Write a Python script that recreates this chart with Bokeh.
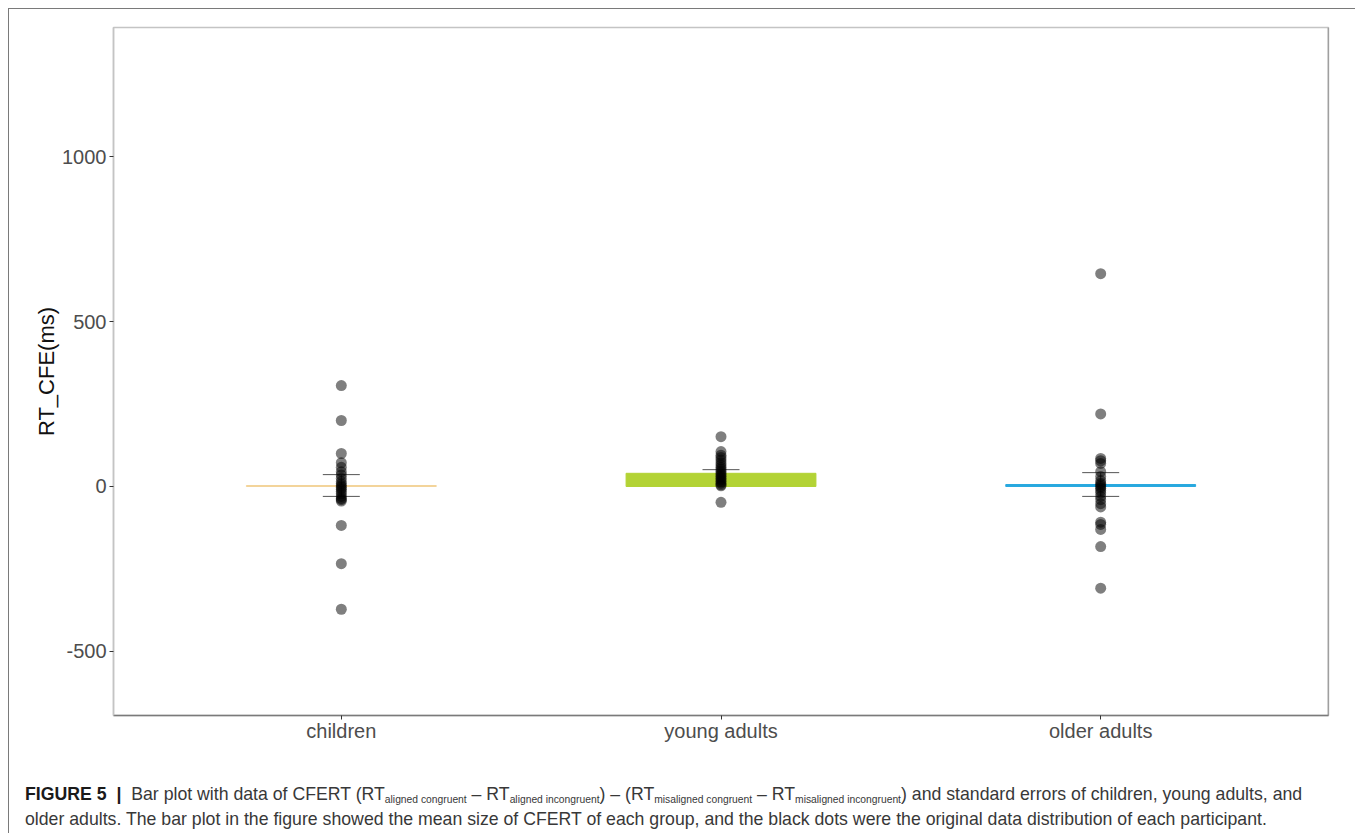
from bokeh.plotting import figure
from bokeh.models import (Range1d, FactorRange, FixedTicker, Whisker, TeeHead,
                          ColumnDataSource, Div, Span)
from bokeh.layouts import column
from bokeh.embed import file_html
from bokeh.resources import INLINE

# ---------------- data ----------------
groups = ["children", "young adults", "older adults"]
means = [3, 40, 6]
ses = [33, 11, 36]
bar_colors = ["#F3D49A", "#B3D335", "#29A8DF"]

children_pts = [306, 200, 100, 72, 58, 45, 35, 25, 15, 8, 2, -3, -8, -15,
                -22, -30, -36, -40, -44, -118, -234, -372]
young_pts = [151, 106, 95, 88, 80, 72, 65, 58, 52, 46, 40, 35, 30, 25, 20,
             15, 10, 5, 2, -48]
older_pts = [645, 220, 85, 78, 70, 45, 30, 18, 10, 5, 0, -5, -12, -20, -30,
             -40, -52, -62, -108, -115, -130, -182, -308]

y_ticks = [-500, 0, 500, 1000]
y_tick_labels = ["-500", "0", "500", "1000"]
y_label = "RT_CFE(ms)"

# ---------------- figure ----------------
p = figure(x_range=FactorRange(factors=groups, range_padding=0.1,
                               range_padding_units="absolute"),
           y_range=Range1d(-694, 1391),
           width=1342, height=756,
           min_border_left=104, min_border_right=23,
           min_border_top=18, min_border_bottom=50,
           output_backend="svg", toolbar_location=None,
           background_fill_color="white", border_fill_color="white")

p.xgrid.visible = False
p.ygrid.visible = False
p.outline_line_color = "#c4c4c4"
p.outline_line_width = 1.5

bars = ColumnDataSource(dict(x=groups, top=means, color=bar_colors,
                             upper=[m + s for m, s in zip(means, ses)],
                             lower=[m - s for m, s in zip(means, ses)]))
p.vbar(x="x", top="top", bottom=0, width=0.5, fill_color="color",
       line_color="color", line_width=1, source=bars)

p.add_layout(Whisker(source=bars, base="x", upper="upper", lower="lower",
                     dimension="height", line_color="#555555", line_width=1,
                     upper_head=TeeHead(size=37, line_color="#555555", line_width=1),
                     lower_head=TeeHead(size=37, line_color="#555555", line_width=1)))

px = ([groups[0]] * len(children_pts) + [groups[1]] * len(young_pts)
      + [groups[2]] * len(older_pts))
py = children_pts + young_pts + older_pts
p.scatter(x=px, y=py, size=11, fill_color="black", fill_alpha=0.5,
          line_color=None)

# right frame edge darker
p.add_layout(Span(location=3.1, dimension="height", line_color="#7a7a7a",
                  line_width=1.5))

# axes
p.yaxis.ticker = FixedTicker(ticks=y_ticks)
p.yaxis.major_label_overrides = {t: l for t, l in zip(y_ticks, y_tick_labels)}
p.yaxis.axis_label = y_label
for ax in (p.xaxis[0], p.yaxis[0]):
    ax.major_label_text_font = "Liberation Sans"
    ax.major_label_text_font_size = "20px"
    ax.major_label_text_color = "#4d4d4d"
    ax.major_tick_line_color = "#333333"
    ax.major_tick_out = 4
    ax.major_tick_in = 0
    ax.minor_tick_line_color = None
p.yaxis.major_label_standoff = 3
p.xaxis.major_label_standoff = 0
p.yaxis.axis_line_color = "#c4c4c4"
p.yaxis.axis_line_width = 1.5
p.xaxis.axis_line_color = "#7a7a7a"
p.xaxis.axis_line_width = 1.5
p.yaxis.axis_label_text_font = "Liberation Sans"
p.yaxis.axis_label_text_font_size = "22px"
p.yaxis.axis_label_text_font_style = "normal"
p.yaxis.axis_label_text_color = "#111111"
p.yaxis.axis_label_standoff = 0

sub = ('<sub style="font-size:10.3px; line-height:0; vertical-align:-3px;">'
       '%s</sub>')
caption_html = (
    '<div style="font-family: \'Liberation Sans\', Arial, sans-serif; '
    'font-size:17.7px; color:#383838; line-height:25px; padding-left:11px; '
    'padding-top:12px; white-space:nowrap;">'
    '<b style="color:#1a1a1a;">FIGURE 5</b>&nbsp; <b style="color:#1a1a1a;">|</b>&nbsp; '
    'Bar plot with data of CFERT (RT' + sub % 'aligned congruent' + ' &ndash; '
    'RT' + sub % 'aligned incongruent' + ') &ndash; '
    '(RT' + sub % 'misaligned congruent' + ' &ndash; '
    'RT' + sub % 'misaligned incongruent' + ') and standard errors of '
    'children, young adults, and<br>'
    'older adults. The bar plot in the figure showed the mean size of CFERT of each group, '
    'and the black dots were the original data distribution of each participant.'
    '</div>'
)
caption = Div(text=caption_html, width=1342, height=62)

layout = column(p, caption, styles={"border-left": "1px solid #7a7a7a",
                                    "border-top": "1px solid #7a7a7a",
                                    "border-right": "1px solid #d0d0d0",
                                    "margin-left": "8px",
                                    "margin-top": "8px",
                                    "background-color": "white"})

open("out.html", "w").write(file_html(layout, INLINE))
